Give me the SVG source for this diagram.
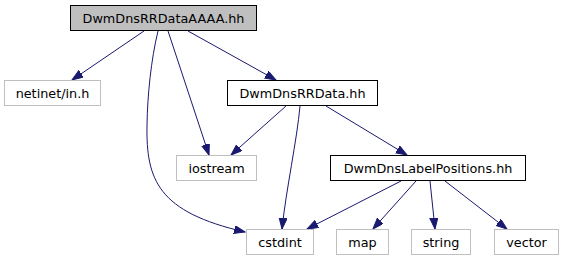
<svg xmlns="http://www.w3.org/2000/svg" width="563" height="261" viewBox="0 0 563 261">
<defs>
<style>
.node rect{stroke-width:1}
.cur{fill:#bfbfbf;stroke:#000}
.inc{fill:#fff;stroke:#000}
.ext{fill:#fff;stroke:#bfbfbf}
text{font-family:"DejaVu Sans",sans-serif;font-size:12.8px;fill:#000;text-anchor:middle}
.edge{fill:none;stroke:#191970;stroke-width:1;marker-end:url(#ah)}
</style>
<marker id="ah" markerUnits="userSpaceOnUse" markerWidth="12" markerHeight="9" refX="11" refY="4" orient="auto">
<path d="M0,0 L11,4 L0,8 z" fill="#191970" stroke="#191970"/>
</marker>
</defs>
<rect width="563" height="261" fill="#fff"/>
<g id="connectors">
<path class="edge" d="M144,31 L72,80"/>
<path class="edge" d="M158,31 C151,60 147.5,95 147,125 C146,180 158,212 245,232"/>
<path class="edge" d="M168,31 L209,155"/>
<path class="edge" d="M188,31 L276,80"/>
<path class="edge" d="M286,106 L231,155"/>
<path class="edge" d="M300,106 C297,140 286,190 282,229"/>
<path class="edge" d="M326,106 L407,155"/>
<path class="edge" d="M401,181 L307,229"/>
<path class="edge" d="M416,181 L373,229"/>
<path class="edge" d="M430,181 L435,229"/>
<path class="edge" d="M445,181 L507,229"/>
</g>
<g id="node-DwmDnsRRDataAAAA" class="node">
<rect class="cur" x="70.5" y="5.5" width="186" height="25"/>
<text x="163.5" y="22.5">DwmDnsRRDataAAAA.hh</text>
</g>
<g id="node-netinet" class="node">
<rect class="ext" x="4.5" y="80.5" width="96" height="25"/>
<text x="52.5" y="97.5">netinet/in.h</text>
</g>
<g id="node-DwmDnsRRData" class="node">
<rect class="inc" x="227.5" y="80.5" width="150" height="25"/>
<text x="302.5" y="97.5">DwmDnsRRData.hh</text>
</g>
<g id="node-iostream" class="node">
<rect class="ext" x="176.5" y="155.5" width="80" height="25"/>
<text x="216.5" y="172.5">iostream</text>
</g>
<g id="node-DwmDnsLabelPositions" class="node">
<rect class="inc" x="330.5" y="155.5" width="195" height="25"/>
<text x="428" y="172.5">DwmDnsLabelPositions.hh</text>
</g>
<g id="node-cstdint" class="node">
<rect class="ext" x="246.5" y="229.5" width="67" height="25"/>
<text x="280" y="246.5">cstdint</text>
</g>
<g id="node-map" class="node">
<rect class="ext" x="336.5" y="229.5" width="52" height="25"/>
<text x="362.5" y="246.5">map</text>
</g>
<g id="node-string" class="node">
<rect class="ext" x="411.5" y="229.5" width="59" height="25"/>
<text x="441" y="246.5">string</text>
</g>
<g id="node-vector" class="node">
<rect class="ext" x="494.5" y="229.5" width="64" height="25"/>
<text x="526.5" y="246.5">vector</text>
</g>
</svg>
